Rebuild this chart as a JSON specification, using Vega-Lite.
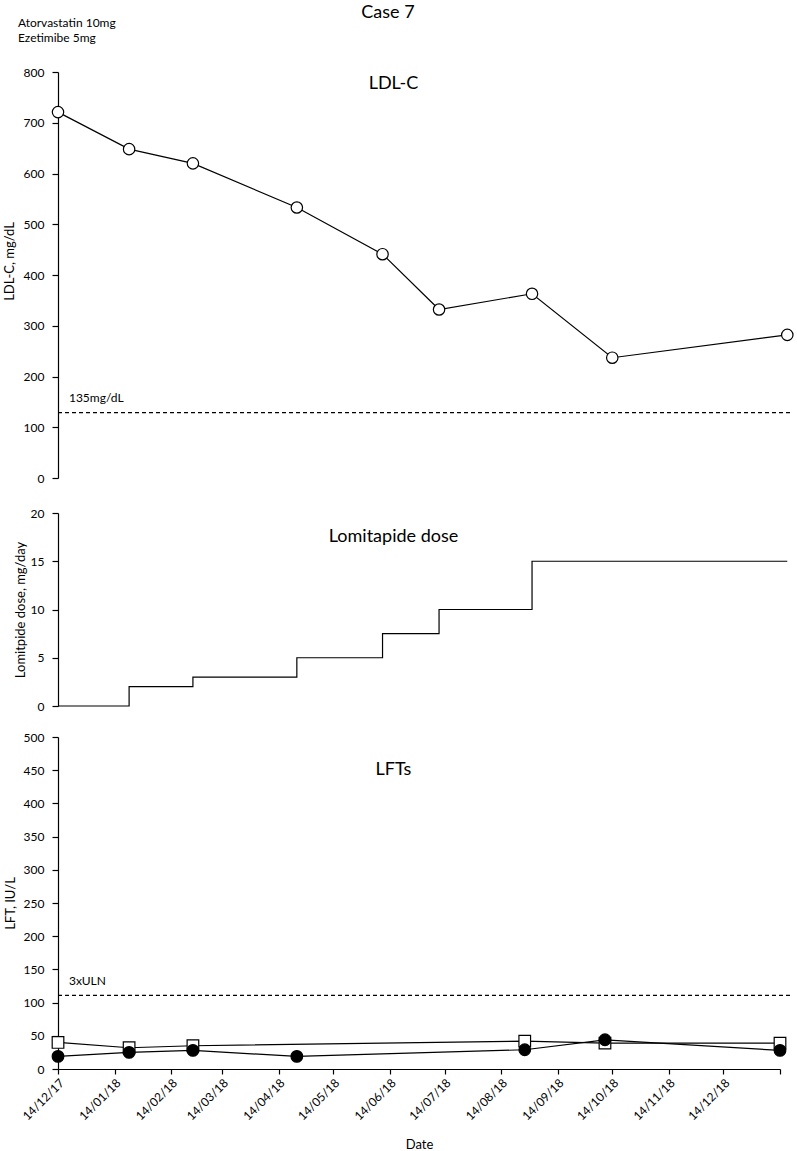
{
  "$schema": "https://vega.github.io/schema/vega-lite/v6.json",
  "background": "white",
  "padding": {"left": 3, "top": 3, "right": 0, "bottom": 0},
  "config": {
    "view": {"stroke": null},
    "font": "Lato",
    "axis": {"grid": false, "domainColor": "black", "tickColor": "black", "labelColor": "black", "titleColor": "black", "labelFont": "Lato", "titleFont": "Lato", "labelFontSize": 12, "titleFontSize": 13, "titleFontWeight": "normal", "tickSize": 6, "labelPadding": 8, "domainWidth": 1.2, "tickWidth": 1.2},
    "text": {"font": "Lato", "color": "black"}
  },
  "datasets": {
    "ldl": [
      {"date": "2017-12-14", "ldl": 721},
      {"date": "2018-01-22", "ldl": 648},
      {"date": "2018-02-26", "ldl": 620},
      {"date": "2018-04-24", "ldl": 533},
      {"date": "2018-06-10", "ldl": 441},
      {"date": "2018-07-11", "ldl": 332},
      {"date": "2018-08-31", "ldl": 363},
      {"date": "2018-10-14", "ldl": 237},
      {"date": "2019-01-18", "ldl": 282}
    ],
    "dose": [
      {"date": "2017-12-14", "dose": 0},
      {"date": "2018-01-22", "dose": 2},
      {"date": "2018-02-26", "dose": 3},
      {"date": "2018-04-24", "dose": 5},
      {"date": "2018-06-10", "dose": 7.5},
      {"date": "2018-07-11", "dose": 10},
      {"date": "2018-08-31", "dose": 15},
      {"date": "2019-01-18", "dose": 15}
    ],
    "lft": [
      {"date": "2017-12-14", "series": "open", "value": 40},
      {"date": "2018-01-22", "series": "open", "value": 32},
      {"date": "2018-02-26", "series": "open", "value": 35},
      {"date": "2018-08-27", "series": "open", "value": 42},
      {"date": "2018-10-10", "series": "open", "value": 39},
      {"date": "2019-01-14", "series": "open", "value": 39},
      {"date": "2017-12-14", "series": "filled", "value": 19},
      {"date": "2018-01-22", "series": "filled", "value": 25},
      {"date": "2018-02-26", "series": "filled", "value": 28},
      {"date": "2018-04-24", "series": "filled", "value": 19},
      {"date": "2018-08-27", "series": "filled", "value": 29},
      {"date": "2018-10-10", "series": "filled", "value": 44},
      {"date": "2019-01-14", "series": "filled", "value": 28}
    ]
  },
  "spacing": 35,
  "bounds": "flush",
  "vconcat": [
    {
      "width": 722,
      "height": 406,
      "encoding": {
        "x": {"type": "temporal", "scale": {"type": "utc", "domain": [{"year": 2017, "month": 12, "date": 14, "utc": true}, {"year": 2019, "month": 1, "date": 14, "utc": true}], "nice": false}, "axis": null},
        "y": {"type": "quantitative", "title": "LDL-C, mg/dL", "scale": {"domain": [0, 800], "nice": false}, "axis": {"values": [0, 100, 200, 300, 400, 500, 600, 700, 800], "titlePadding": 7, "titleY": 189}}
      },
      "layer": [
        {
          "data": {"values": [{}]},
          "mark": {"type": "rule", "strokeDash": [4, 3], "strokeWidth": 1.2, "color": "black"},
          "encoding": {
            "x": {"datum": {"year": 2017, "month": 12, "date": 14, "utc": true}},
            "x2": {"datum": {"year": 2019, "month": 1, "date": 20, "utc": true}},
            "y": {"datum": 129}
          }
        },
        {
          "data": {"name": "ldl"},
          "mark": {"type": "line", "color": "black", "strokeWidth": 1.2},
          "encoding": {
            "x": {"field": "date"},
            "y": {"field": "ldl"}
          }
        },
        {
          "data": {"name": "ldl"},
          "mark": {"type": "point", "shape": "circle", "filled": true, "fill": "white", "stroke": "black", "strokeWidth": 1.2, "size": 130, "opacity": 1},
          "encoding": {
            "x": {"field": "date"},
            "y": {"field": "ldl"}
          }
        },
        {
          "data": {"values": [{}]},
          "mark": {"type": "text", "text": "LDL-C", "fontSize": 18, "align": "center", "baseline": "middle"},
          "encoding": {
            "x": {"datum": {"year": 2018, "month": 6, "date": 16, "utc": true}},
            "y": {"datum": 777}
          }
        },
        {
          "data": {"values": [{}]},
          "mark": {"type": "text", "text": "Case 7", "fontSize": 18, "align": "center", "baseline": "middle"},
          "encoding": {
            "x": {"datum": {"year": 2018, "month": 6, "date": 13, "utc": true}},
            "y": {"datum": 917}
          }
        },
        {
          "data": {"values": [{}]},
          "mark": {"type": "text", "text": ["Atorvastatin 10mg", "Ezetimibe 5mg"], "fontSize": 12, "align": "left", "baseline": "top", "lineHeight": 15.5},
          "encoding": {
            "x": {"datum": {"year": 2017, "month": 11, "date": 22, "utc": true}},
            "y": {"datum": 907}
          }
        },
        {
          "data": {"values": [{}]},
          "mark": {"type": "text", "text": "135mg/dL", "fontSize": 12, "align": "left", "baseline": "middle"},
          "encoding": {
            "x": {"datum": {"year": 2017, "month": 12, "date": 20, "utc": true}},
            "y": {"datum": 158}
          }
        }
      ]
    },
    {
      "spacing": 31,
      "bounds": "flush",
      "vconcat": [
        {
          "width": 722,
          "height": 193,
          "encoding": {
            "x": {"type": "temporal", "scale": {"type": "utc", "domain": [{"year": 2017, "month": 12, "date": 14, "utc": true}, {"year": 2019, "month": 1, "date": 14, "utc": true}], "nice": false}, "axis": null},
            "y": {"type": "quantitative", "title": "Lomitpide dose, mg/day", "scale": {"domain": [0, 20], "nice": false}, "axis": {"values": [0, 5, 10, 15, 20], "titlePadding": 3}}
          },
          "layer": [
            {
              "data": {"name": "dose"},
              "mark": {"type": "line", "interpolate": "step-after", "color": "black", "strokeWidth": 1.2},
              "encoding": {
                "x": {"field": "date"},
                "y": {"field": "dose"}
              }
            },
            {
              "data": {"values": [{}]},
              "mark": {"type": "text", "text": "Lomitapide dose", "fontSize": 18, "align": "center", "baseline": "middle"},
              "encoding": {
                "x": {"datum": {"year": 2018, "month": 6, "date": 16, "utc": true}},
                "y": {"datum": 17.5}
              }
            }
          ]
        },
        {
          "width": 722,
          "height": 332,
          "encoding": {
            "x": {"type": "temporal", "title": "Date", "scale": {"type": "utc", "domain": [{"year": 2017, "month": 12, "date": 14, "utc": true}, {"year": 2019, "month": 1, "date": 14, "utc": true}], "nice": false},
              "axis": {"values": [
                {"year": 2017, "month": 12, "date": 14, "utc": true},
                {"year": 2018, "month": 1, "date": 14, "utc": true},
                {"year": 2018, "month": 2, "date": 14, "utc": true},
                {"year": 2018, "month": 3, "date": 14, "utc": true},
                {"year": 2018, "month": 4, "date": 14, "utc": true},
                {"year": 2018, "month": 5, "date": 14, "utc": true},
                {"year": 2018, "month": 6, "date": 14, "utc": true},
                {"year": 2018, "month": 7, "date": 14, "utc": true},
                {"year": 2018, "month": 8, "date": 14, "utc": true},
                {"year": 2018, "month": 9, "date": 14, "utc": true},
                {"year": 2018, "month": 10, "date": 14, "utc": true},
                {"year": 2018, "month": 11, "date": 14, "utc": true},
                {"year": 2018, "month": 12, "date": 14, "utc": true},
                {"year": 2019, "month": 1, "date": 14, "utc": true}
              ], "labelAngle": -45, "labelPadding": 3, "tickSize": 5, "labelExpr": "utcyear(datum.value) == 2019 ? '' : utcFormat(datum.value, '%d/%m/%y')", "titlePadding": 17}},
            "y": {"type": "quantitative", "title": "LFT, IU/L", "scale": {"domain": [0, 500], "nice": false}, "axis": {"values": [0, 50, 100, 150, 200, 250, 300, 350, 400, 450, 500], "titlePadding": 6}}
          },
          "layer": [
            {
              "data": {"values": [{}]},
              "mark": {"type": "rule", "strokeDash": [4, 3], "strokeWidth": 1.2, "color": "black"},
              "encoding": {
                "x": {"datum": {"year": 2017, "month": 12, "date": 14, "utc": true}},
                "x2": {"datum": {"year": 2019, "month": 1, "date": 20, "utc": true}},
                "y": {"datum": 111}
              }
            },
            {
              "data": {"name": "lft"},
              "mark": {"type": "line", "color": "black", "strokeWidth": 1.2},
              "encoding": {
                "x": {"field": "date"},
                "y": {"field": "value"},
                "detail": {"field": "series", "type": "nominal"}
              }
            },
            {
              "data": {"name": "lft"},
              "mark": {"type": "point", "filled": true, "stroke": "black", "strokeWidth": 1.2, "size": 135, "opacity": 1},
              "encoding": {
                "x": {"field": "date"},
                "y": {"field": "value"},
                "shape": {"field": "series", "type": "nominal", "scale": {"domain": ["open", "filled"], "range": ["square", "circle"]}, "legend": null},
                "fill": {"field": "series", "type": "nominal", "scale": {"domain": ["open", "filled"], "range": ["white", "black"]}, "legend": null}
              }
            },
            {
              "data": {"values": [{}]},
              "mark": {"type": "text", "text": "LFTs", "fontSize": 18, "align": "center", "baseline": "middle"},
              "encoding": {
                "x": {"datum": {"year": 2018, "month": 6, "date": 16, "utc": true}},
                "y": {"datum": 450}
              }
            },
            {
              "data": {"values": [{}]},
              "mark": {"type": "text", "text": "3xULN", "fontSize": 12, "align": "left", "baseline": "middle"},
              "encoding": {
                "x": {"datum": {"year": 2017, "month": 12, "date": 20, "utc": true}},
                "y": {"datum": 132}
              }
            }
          ]
        }
      ]
    }
  ]
}
